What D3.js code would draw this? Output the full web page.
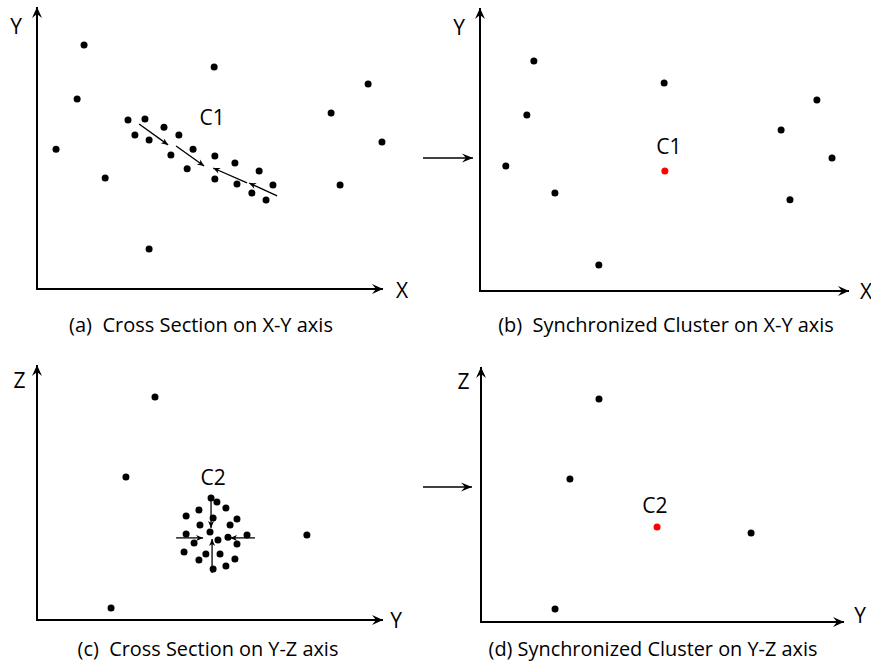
<!DOCTYPE html>
<html>
<head>
<meta charset="utf-8">
<script src="https://cdn.jsdelivr.net/npm/d3@7"></script>
<style>
  body { margin: 0; background: #fff; }
  svg text { font-family: "Open Sans", Lato, sans-serif; fill: #000; white-space: pre; }
</style>
</head>
<body>
<svg id="fig" width="871" height="667"></svg>
<script>
// All values are on a 0–100 scale along each panel's two axes.

// (a) cross section on X-Y: scattered points and the C1 cluster
const scatterA = [[5.5,49.6],[13.6,86.5],[11.6,67.4],[19.7,39.4],[51.2,78.7],[32.4,14.2],
                  [85.0,62.4],[95.7,72.7],[99.7,52.1],[87.6,36.9]];
const clusterA = [[26.3,59.9],[31.2,60.3],[28.3,54.6],[32.4,52.8],[36.7,57.4],[41.0,54.6],
                  [38.7,47.5],[45.1,49.6],[43.4,42.6],[51.4,47.2],[57.2,44.7],[51.4,39.0],
                  [57.8,37.2],[64.2,41.8],[62.1,34.0],[68.2,36.9],[66.2,31.6]];
const movesA = [[29.5,58.5,37.9,51.1],[40.2,50.7,48.3,43.6],[60.7,37.6,50.9,42.9],[69.4,33.0,61.3,37.6]];

// (b) synchronized cluster on X-Y: C1 collapsed to one point
const scatterB = [[14.6,81.3],[12.7,62.2],[7.0,44.2],[20.3,34.6],[49.9,73.5],[32.2,9.2],
                  [81.6,56.9],[91.3,67.5],[95.4,47.0],[84.0,32.2]];
const centerB = [[50.1,42.4]];

// (c) cross section on Y-Z: scattered points and the C2 cluster
const scatterC = [[34.1,87.5],[25.7,56.1],[21.4,4.7],[78.0,33.3]];
const clusterC = [[50.3,47.8],[52.0,46.3],[54.6,43.9],[46.8,43.1],[43.1,40.8],[50.9,40.0],
                  [57.8,39.6],[47.1,37.3],[55.8,37.3],[50.0,34.5],[43.1,33.7],[60.7,33.3],
                  [55.2,32.5],[45.4,30.2],[52.3,31.4],[57.8,29.8],[42.5,26.7],[48.8,25.9],
                  [52.9,25.9],[46.8,23.5],[57.2,23.9],[54.6,21.2],[50.9,20.0]];
const movesC = [[50.3,47.1,50.3,36.1],[50.6,18.4,50.6,31.8],[40.2,32.2,48.0,32.2],[63.0,32.2,55.8,32.2]];

// (d) synchronized cluster on Y-Z: C2 collapsed to one point
const scatterD = [[32.5,87.5],[24.5,56.1],[20.4,5.1],[74.4,34.9]];
const centerD = [[48.5,37.3]];

const clusterNames = ["C1", "C1", "C2", "C2"];
const clusterLabelPos = [[50.6,61.0],[51.2,51.2],[50.9,56.1],[47.9,45.9]];
const axisNames = [["X","Y"],["X","Y"],["Y","Z"],["Y","Z"]];
const captions = ["(a)  Cross Section on X-Y axis",
                  "(b)  Synchronized Cluster on X-Y axis",
                  "(c)  Cross Section on Y-Z axis",
                  "(d) Synchronized Cluster on Y-Z axis"];

// Panel frames (origin of the axes, arrow ends, caption and label anchors)
const frames = [
  { ox: 37,  oy: 289, xEnd: 383, yEnd: 7,   capX: 201, capY: 332, capW: 264, xl: [402, 298], yl: [16, 34] },
  { ox: 480, oy: 291, xEnd: 849, yEnd: 8,   capX: 666, capY: 332, capW: 336, xl: [866, 299], yl: [459, 35] },
  { ox: 37,  oy: 620, xEnd: 383, yEnd: 365, capX: 208, capY: 656, capW: 261, xl: [396, 628], yl: [19.5, 388] },
  { ox: 481, oy: 622, xEnd: 844, yEnd: 367, capX: 653, capY: 656, capW: 329, xl: [860, 623], yl: [463.5, 389] }
];
const panelData = [
  { scatter: scatterA, cluster: clusterA, moves: movesA, center: [] },
  { scatter: scatterB, cluster: [], moves: [], center: centerB },
  { scatter: scatterC, cluster: clusterC, moves: movesC, center: [] },
  { scatter: scatterD, cluster: [], moves: [], center: centerD }
];

const svg = d3.select("#fig");
const defs = svg.append("defs");

// Stealth-style arrowheads
function marker(id, len, half, notch) {
  defs.append("marker")
    .attr("id", id)
    .attr("markerUnits", "userSpaceOnUse")
    .attr("viewBox", `${-len - 1} ${-half - 1} ${len + 2} ${2 * half + 2}`)
    .attr("markerWidth", len + 2).attr("markerHeight", 2 * half + 2)
    .attr("refX", 0).attr("refY", 0)
    .attr("orient", "auto")
    .append("path")
    .attr("d", `M0,0 L${-len},${-half} L${-len + notch},0 L${-len},${half} Z`)
    .attr("fill", "#000");
}
marker("axisHead", 11, 5, 4);
marker("linkHead", 11, 4.5, 4);
marker("moveHead", 7, 3, 2);

frames.forEach((f, i) => {
  const d = panelData[i];
  const x = d3.scaleLinear().domain([0, 100]).range([f.ox, f.xEnd]);
  const y = d3.scaleLinear().domain([0, 100]).range([f.oy, f.yEnd]);
  const g = svg.append("g");

  // axes
  g.append("line").attr("x1", x(0) - 1).attr("y1", y(0)).attr("x2", x(100)).attr("y2", y(0))
    .attr("stroke", "#000").attr("stroke-width", 2).attr("marker-end", "url(#axisHead)");
  g.append("line").attr("x1", x(0)).attr("y1", y(0) + 1).attr("x2", x(0)).attr("y2", y(100))
    .attr("stroke", "#000").attr("stroke-width", 2).attr("marker-end", "url(#axisHead)");

  g.append("text").attr("x", f.xl[0]).attr("y", f.xl[1]).attr("text-anchor", "middle")
    .attr("font-size", 21).text(axisNames[i][0]);
  g.append("text").attr("x", f.yl[0]).attr("y", f.yl[1]).attr("text-anchor", "middle")
    .attr("font-size", 21).text(axisNames[i][1]);

  // points
  const pts = d.scatter.concat(d.cluster);
  g.selectAll("circle.pt").data(pts).join("circle").attr("class", "pt")
    .attr("cx", p => x(p[0])).attr("cy", p => y(p[1])).attr("r", 3.5).attr("fill", "#000");

  // movement arrows inside the cluster
  g.selectAll("line.mv").data(d.moves).join("line").attr("class", "mv")
    .attr("x1", m => x(m[0])).attr("y1", m => y(m[1]))
    .attr("x2", m => x(m[2])).attr("y2", m => y(m[3]))
    .attr("stroke", "#000").attr("stroke-width", 1.3).attr("marker-end", "url(#moveHead)");

  // synchronized cluster centre
  g.selectAll("circle.ctr").data(d.center).join("circle").attr("class", "ctr")
    .attr("cx", p => x(p[0])).attr("cy", p => y(p[1])).attr("r", 3.5).attr("fill", "#ff0000");

  // cluster label
  g.append("text").attr("x", x(clusterLabelPos[i][0])).attr("y", y(clusterLabelPos[i][1]))
    .attr("dy", "0.36em").attr("text-anchor", "middle").attr("font-size", 21)
    .text(clusterNames[i]);

  // caption, sized to span its width
  const cap = g.append("text").attr("x", f.capX).attr("y", f.capY).attr("text-anchor", "middle")
    .attr("font-size", 18).text(captions[i]);
  const w = cap.node().getComputedTextLength();
  cap.attr("font-size", 18 * f.capW / w);
});

// arrows linking each cross section to its synchronized view
const links = [[423, 473, 158], [423, 472, 487]];
svg.selectAll("line.link").data(links).join("line").attr("class", "link")
  .attr("x1", l => l[0]).attr("x2", l => l[1]).attr("y1", l => l[2]).attr("y2", l => l[2])
  .attr("stroke", "#000").attr("stroke-width", 1.4).attr("marker-end", "url(#linkHead)");
</script>
</body>
</html>
